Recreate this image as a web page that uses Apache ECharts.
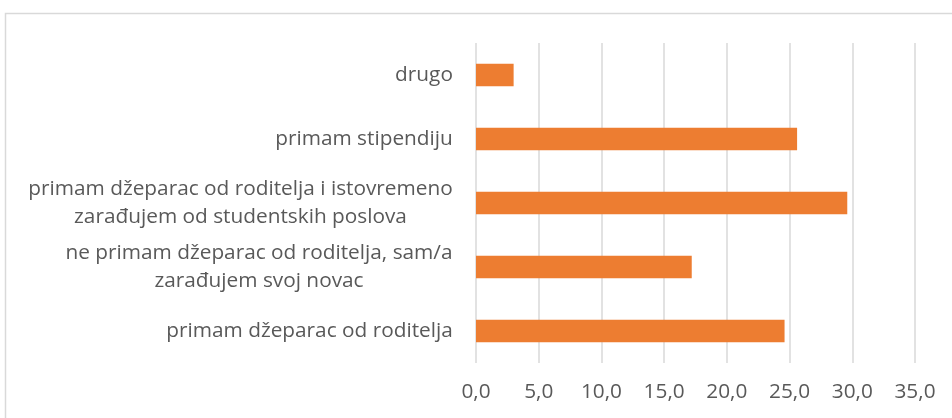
<!DOCTYPE html>
<html>
<head>
<meta charset="utf-8">
<script src="https://cdn.jsdelivr.net/npm/echarts@6/dist/echarts.min.js"></script>
<style>html,body{margin:0;padding:0;background:#fff;}#c{width:952px;height:418px;}</style>
</head>
<body>
<div id="c"></div>
<script>
const categories = [
  "primam džeparac od roditelja",
  "ne primam džeparac od roditelja, sam/a\nzarađujem svoj novac",
  "primam džeparac od roditelja i istovremeno\nzarađujem od studentskih poslova",
  "primam stipendiju",
  "drugo"
];
const values = [24.6, 17.2, 29.6, 25.6, 3.0];
const xTicks = { min: 0, max: 35, interval: 5 };

const FONT_FAMILY = "'Open Sans', sans-serif";
const FONT_SIZE = 20.8;
const ctx = document.createElement('canvas').getContext('2d');
ctx.font = FONT_SIZE + "px " + FONT_FAMILY;
const rich = {};
categories.forEach((c, i) => {
  const w = Math.max(...c.split('\n').map(l => ctx.measureText(l).width));
  rich['r' + i] = { width: Math.ceil(w), align: 'center', fontSize: FONT_SIZE, fontFamily: FONT_FAMILY, color: '#595959', lineHeight: 28 };
});

const chart = echarts.init(document.getElementById('c'));
chart.setOption({
  animation: false,
  backgroundColor: '#fff',
  graphic: [{
    type: 'rect', silent: true,
    shape: { x: 5.5, y: 13.5, width: 1000, height: 1000 },
    style: { fill: 'none', stroke: '#d9d9d9', lineWidth: 1.5 }
  }],
  grid: { left: 476, right: 37, top: 43, bottom: 55, containLabel: false },
  xAxis: {
    type: 'value', min: xTicks.min, max: xTicks.max, interval: xTicks.interval,
    axisLine: { show: false }, axisTick: { show: false },
    splitLine: { show: true, lineStyle: { color: '#d9d9d9', width: 1.5 } },
    axisLabel: {
      color: '#595959', fontSize: FONT_SIZE, fontFamily: FONT_FAMILY, margin: 19,
      formatter: v => v.toFixed(1).replace('.', ',')
    }
  },
  yAxis: {
    type: 'category', data: categories,
    axisLine: { show: false }, axisTick: { show: false },
    axisLabel: {
      margin: 23, interval: 0,
      formatter: (v, i) => v.split('\n').map(l => '{r' + i + '|' + l + '}').join('\n'),
      rich: rich
    }
  },
  series: [{
    type: 'bar', data: values, barWidth: '35%',
    itemStyle: { color: '#ED7D31' }
  }]
});
</script>
</body>
</html>
